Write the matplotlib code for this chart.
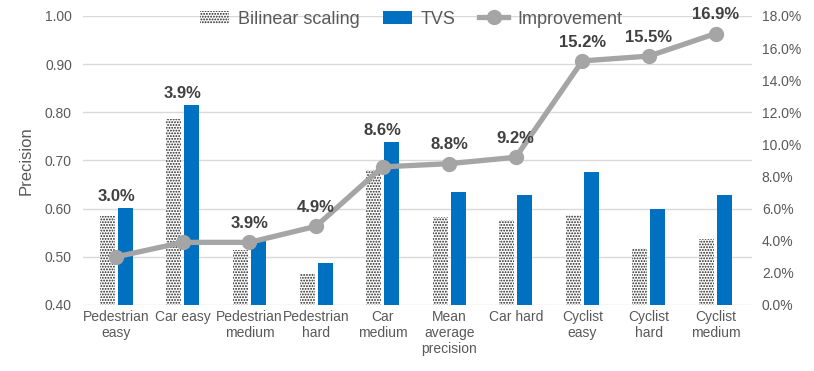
import matplotlib.pyplot as plt
import numpy as np

plt.rcParams['font.family'] = ['Liberation Sans', 'DejaVu Sans']
plt.rcParams['hatch.linewidth'] = 0.9

categories = ['Pedestrian\neasy', 'Car easy', 'Pedestrian\nmedium', 'Pedestrian\nhard',
              'Car\nmedium', 'Mean\naverage\nprecision', 'Car hard', 'Cyclist\neasy',
              'Cyclist\nhard', 'Cyclist\nmedium']
bilinear = [0.585, 0.787, 0.514, 0.464, 0.680, 0.583, 0.576, 0.587, 0.518, 0.536]
tvs = [0.601, 0.816, 0.533, 0.488, 0.739, 0.634, 0.628, 0.675, 0.599, 0.628]
improvement = [3.0, 3.9, 3.9, 4.9, 8.6, 8.8, 9.2, 15.2, 15.5, 16.9]

grey = '#595959'
x = np.arange(len(categories))
w = 0.225

fig = plt.figure(figsize=(8.14, 3.71), dpi=100)
ax = fig.add_axes([0.102, 0.178, 0.822, 0.779])
ax.set_axisbelow(True)
ax.bar(x - 0.135, bilinear, w, color='white', edgecolor='#222222', hatch='......',
       linewidth=0, label='Bilinear scaling')
ax.bar(x + 0.135, tvs, w, color='#0070C0', label='TVS')
ax.set_ylim(0.4, 1.0)
ax.set_yticks(np.arange(0.4, 1.01, 0.1))
ax.set_yticklabels(['%.2f' % v for v in np.arange(0.4, 1.01, 0.1)])
ax.set_xlim(-0.5, len(categories) - 0.45)
ax.set_xticks(x)
ax.set_xticklabels(categories)
ax.grid(axis='y', color='#D9D9D9', linewidth=1)
for s in ax.spines.values():
    s.set_visible(False)
ax.tick_params(length=0, colors=grey, labelsize=10)
ax.tick_params(axis='y', pad=8)
ax.set_ylabel('Precision', color=grey, fontsize=12, labelpad=8)

ax2 = ax.twinx()
ax2.plot(x, improvement, color='#A5A5A5', linewidth=3.8, marker='o', markersize=10,
         label='Improvement')
ax2.set_ylim(0, 18)
ax2.set_yticks(np.arange(0, 19, 2))
ax2.set_yticklabels(['%.1f%%' % v for v in np.arange(0, 19, 2)])
for s in ax2.spines.values():
    s.set_visible(False)
ax2.tick_params(length=0, colors=grey, labelsize=10, pad=7)

# labels sit above the marker or above the taller bar, whichever is higher
for xi, v, t in zip(x, improvement, tvs):
    bar_top = (t - 0.4) / 0.6 * 18
    y = max(v + 0.7, bar_top + 0.25)
    ax2.text(xi, y, '%.1f%%' % v, ha='center', va='bottom', fontsize=12,
             fontweight='bold', color='#404040')

h1, l1 = ax.get_legend_handles_labels()
h2, l2 = ax2.get_legend_handles_labels()
ax.legend(h1 + h2, l1 + l2, loc='upper center', bbox_to_anchor=(0.49, 1.075), ncol=3,
          frameon=False, fontsize=13, labelcolor=grey, handlelength=1.6,
          handletextpad=0.5, columnspacing=1.3)

fig.savefig('out.png', dpi=100)
